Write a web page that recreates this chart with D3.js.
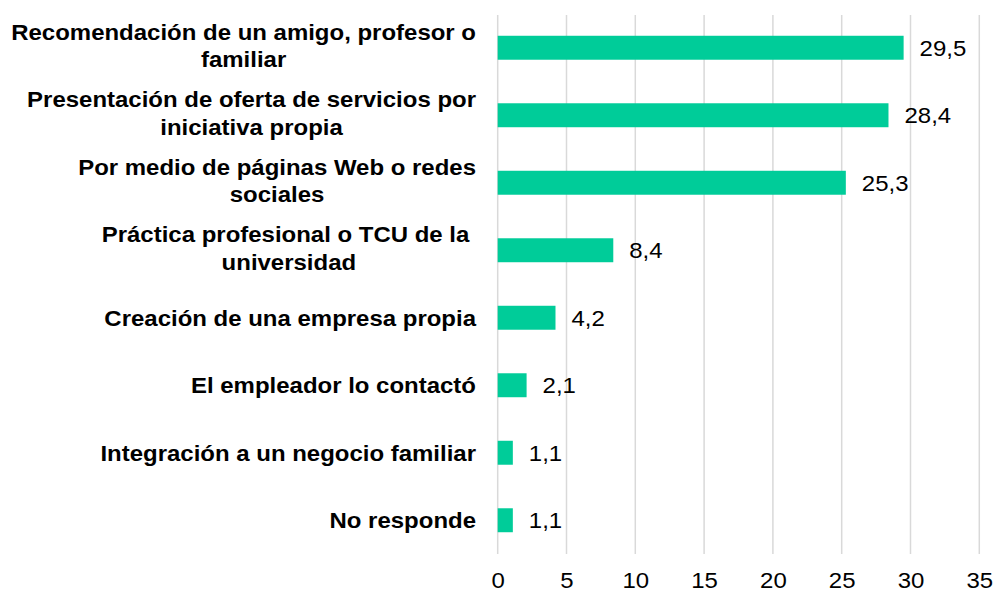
<!DOCTYPE html>
<html>
<head>
<meta charset="utf-8">
<script src="https://cdn.jsdelivr.net/npm/d3@7"></script>
<style>
  html, body { margin: 0; padding: 0; background: #fff; }
  svg { display: block; font-family: "Liberation Sans", Arial, sans-serif; }
</style>
</head>
<body>
<svg id="chart" width="995" height="593"></svg>
<script>
const categories = [
  ["Recomendación de un amigo, profesor o", "familiar"],
  ["Presentación de oferta de servicios por", "iniciativa propia"],
  ["Por medio de páginas Web o redes", "sociales"],
  ["Práctica profesional o TCU de la ", "universidad"],
  ["Creación de una empresa propia"],
  ["El empleador lo contactó"],
  ["Integración a un negocio familiar"],
  ["No responde"]
];
const values = [29.5, 28.4, 25.3, 8.4, 4.2, 2.1, 1.1, 1.1];
const valueLabels = ["29,5", "28,4", "25,3", "8,4", "4,2", "2,1", "1,1", "1,1"];
const xTicks = [0, 5, 10, 15, 20, 25, 30, 35];

(function () {
const FS = 22, SX = 1.09;
const svg = d3.select("#chart");
const plotTop = 14, plotBottom = 554, plotLeft = 497.7, plotRight = 979.3;

const x = d3.scaleLinear().domain([0, 35]).range([plotLeft, plotRight]);
const y = d3.scaleBand().domain(d3.range(categories.length)).range([plotTop, plotBottom])
  .paddingInner(0.645).paddingOuter(0.3225);

// gridlines
svg.append("g").selectAll("line").data(xTicks).join("line")
  .attr("x1", d => x(d)).attr("x2", d => x(d))
  .attr("y1", plotTop + 1).attr("y2", plotBottom)
  .attr("stroke", "#d9d9d9").attr("stroke-width", 1.5);

// axis tick labels
const axis = svg.append("g").attr("transform", `translate(0,${plotBottom})`)
  .call(d3.axisBottom(x).tickValues(xTicks).tickSize(0).tickPadding(18).tickFormat(d3.format("d")));
axis.select(".domain").remove();
axis.selectAll("text")
  .attr("font-size", FS).attr("font-family", "Liberation Sans, Arial, sans-serif")
  .attr("fill", "#000").attr("transform", `scale(${SX},1)`);

// bars
svg.append("g").selectAll("rect").data(values).join("rect")
  .attr("x", x(0)).attr("y", (d, i) => y(i))
  .attr("width", d => x(d) - x(0)).attr("height", y.bandwidth())
  .attr("fill", "#00cc99");

// value labels
svg.append("g").selectAll("text").data(values).join("text")
  .attr("transform", (d, i) => `translate(${x(d) + 16},${y(i) + y.bandwidth() / 2}) scale(${SX},1)`)
  .attr("dy", "0.36em")
  .attr("font-size", FS).attr("fill", "#000")
  .text((d, i) => valueLabels[i]);

// category labels
const labelRight = 476, lineH = 27.5;
categories.forEach((lines, i) => {
  const cy = y(i) + y.bandwidth() / 2;
  const g = svg.append("g").attr("transform", `translate(${labelRight},${cy}) scale(${SX},1)`);
  const n = lines.length;
  const texts = lines.map((ln, k) => g.append("text")
    .attr("font-size", FS).attr("font-weight", "bold").attr("fill", "#000")
    .attr("text-anchor", "middle")
    .style("white-space", "pre")
    .attr("y", (k - (n - 1) / 2) * lineH - (n > 1 ? 2 : 0))
    .attr("dy", "0.36em")
    .text(ln));
  const maxW = d3.max(texts, t => t.node().getComputedTextLength());
  texts.forEach(t => t.attr("x", -maxW / 2));
});
})();
</script>
</body>
</html>
